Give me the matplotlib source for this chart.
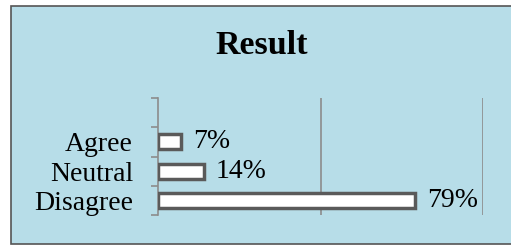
import matplotlib.pyplot as plt
from matplotlib.patches import Rectangle

categories = ["Disagree", "Neutral", "Agree", ""]
values = [0.79, 0.14, 0.07, None]
labels = ["79%", "14%", "7%", ""]

bg = "#b7dde8"
serif = "Liberation Serif"
fig = plt.figure(figsize=(5.11, 2.47), dpi=100)
fig.patch.set_facecolor("white")
box = Rectangle((11 / 511, 3 / 247), 1.0, 238 / 247, transform=fig.transFigure,
                facecolor=bg, edgecolor="#555555", linewidth=1.2, zorder=-1)
fig.patches.append(box)

ax = fig.add_axes([158 / 511, 32 / 247, 325 / 511, 117 / 247])
ax.set_facecolor("none")

for i, v in enumerate(values):
    if v is None:
        continue
    ax.barh(i, v, height=0.52, color="white", edgecolor="#5a5a5a", linewidth=2.5, zorder=3)
    ax.annotate(labels[i], (v, i), xytext=(9, 0), textcoords="offset points",
                va="center", ha="left", fontsize=20, family=serif)

ax.set_xlim(0, 1)
ax.set_ylim(-0.5, len(categories) - 0.5)
ax.set_xticks([0.5, 1.0])
ax.set_xticklabels([])
ax.tick_params(axis="x", length=0)
ax.grid(axis="x", color="#8c8c8c", linewidth=1.2)
ax.set_yticks([i - 0.5 for i in range(len(categories) + 1)])
ax.set_yticklabels([])
ax.set_yticks(list(range(len(categories))), minor=True)
ax.set_yticklabels(categories, minor=True, fontsize=20, family=serif)
ax.tick_params(axis="y", which="major", length=5, color="#8c8c8c", width=1.2)
ax.tick_params(axis="y", which="minor", length=0, pad=18)
for s in ["top", "right", "bottom"]:
    ax.spines[s].set_visible(False)
ax.spines["left"].set_color("#8c8c8c")
ax.spines["left"].set_linewidth(1.2)

fig.text(262 / 511, 1 - 46 / 247, "Result", ha="center", va="center",
         fontsize=24.5, fontweight="bold", family=serif)

fig.savefig("out.png", dpi=100)
